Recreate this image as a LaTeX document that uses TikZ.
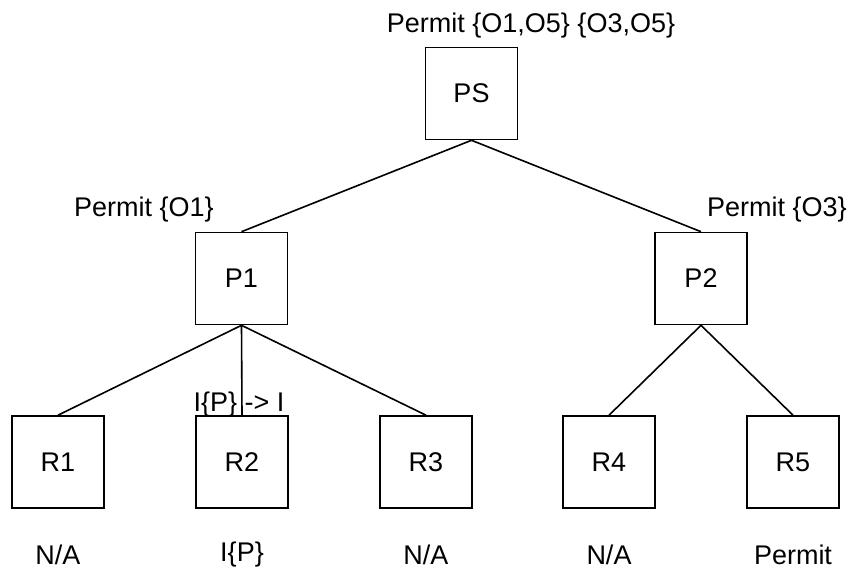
\documentclass[tikz,border=0pt]{standalone}
\usepackage{fontspec}
\setmainfont{Liberation Sans}
\begin{document}
\begin{tikzpicture}[x=1pt,y=-1pt,
  txt/.style={font=\fontsize{27}{32}\selectfont, inner sep=0pt},
  box/.style={draw, line width=1.6pt, minimum width=92pt, minimum height=92pt, inner sep=0pt, font=\fontsize{27}{32}\selectfont},
  edge/.style={line width=1.6pt}]
\useasboundingbox (0,0) rectangle (852,570);
% tree nodes
\node[box] (ps) at (471.5,93.5) {PS};
\node[box] (p1) at (241.5,278.5) {P1};
\node[box] (p2) at (701,278.5) {P2};
\node[box] (r1) at (58,462) {R1};
\node[box] (r2) at (242,462) {R2};
\node[box] (r3) at (426,462) {R3};
\node[box] (r4) at (609,462) {R4};
\node[box] (r5) at (793,462) {R5};
% connectors
\draw[edge] (ps.south) -- (p1.north);
\draw[edge] (ps.south) -- (p2.north);
\draw[edge] (p1.south) -- (r1.north);
\draw[edge] (p1.south) -- (r2.north);
\draw[edge] (p1.south) -- (r3.north);
\draw[edge] (p2.south) -- (r4.north);
\draw[edge] (p2.south) -- (r5.north);
% annotations
\node[txt] (lps) at (531,26) {Permit \{O1,O5\} \{O3,O5\}};
\node[txt] (lp1) at (144,210) {Permit \{O1\}};
\node[txt] (lp2) at (777,210) {Permit \{O3\}};
\node[txt] (lr2) at (239,405) {I\{P\} -> I};
\node[txt] (o1) at (58,555) {N/A};
\node[txt] (o2) at (242,555) {I\{P\}};
\node[txt] (o3) at (426,555) {N/A};
\node[txt] (o4) at (609,555) {N/A};
\node[txt] (o5) at (793,555) {Permit};
\end{tikzpicture}
\end{document}
